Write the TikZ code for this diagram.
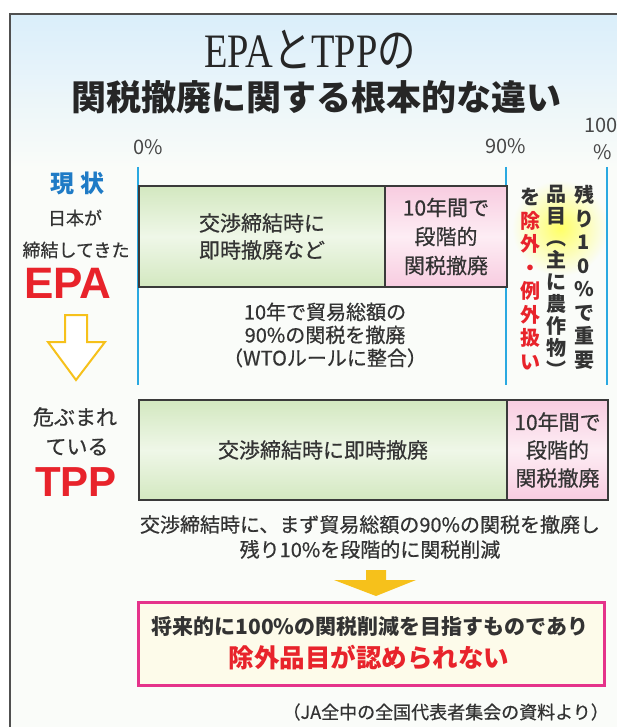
\documentclass[tikz,border=0pt]{standalone}
\usepackage{fontspec}
\setmainfont{Liberation Sans}
\newfontfamily\jp{Noto Sans CJK JP}
\newfontfamily\jpm[FakeBold=0.6]{Noto Sans CJK JP}
\newfontfamily\ser{Liberation Serif}
\newfontfamily\lsans{Liberation Sans}
\definecolor{framec}{HTML}{505050}
\definecolor{txt}{HTML}{333333}
\definecolor{bluel}{HTML}{2AA9E1}
\definecolor{redt}{HTML}{E8232B}
\definecolor{bluet}{HTML}{1F7BC6}
\definecolor{yel}{HTML}{F6C11B}
\definecolor{mag}{HTML}{E5338B}
\definecolor{cream}{HTML}{FDFBEA}
\definecolor{greenA}{HTML}{D3E8C0}
\definecolor{greenB}{HTML}{EFF7E8}
\definecolor{pinkA}{HTML}{F8CCE0}
\definecolor{pinkB}{HTML}{FDEDF4}
\definecolor{bg}{HTML}{FAFCF9}
\definecolor{sky}{HTML}{DAEEFA}
\definecolor{barline}{HTML}{3A3A3A}
\tikzset{
  jt/.style={inner sep=0pt, align=center, text=txt, font=\jpm\fontsize{#1}{#1}\selectfont},
  jtl/.style 2 args={inner sep=0pt, align=center, text=txt, font=\jpm\fontsize{#1}{#2}\selectfont},
  greenbar/.style={draw=barline, line width=2pt, anchor=north west, inner sep=0pt,
     top color=greenA, bottom color=greenA, middle color=greenB},
  pinkbar/.style={draw=barline, line width=2pt, anchor=north west, inner sep=0pt,
     top color=pinkA, bottom color=pinkA, middle color=pinkB},
  scale line/.style={bluel, line width=1.6pt},
  pct/.style={inner sep=0pt, text=txt!90, font=\jp\fontsize{20}{20}\selectfont},
  vcol/.style={inner sep=0pt, align=center, text=txt, anchor=north, font=\jp\bfseries\fontsize{20}{#1}\selectfont},
}
\begin{document}
\begin{tikzpicture}[x=1pt,y=-1pt]
\useasboundingbox (0,0) rectangle (617,727);
\fill[white] (0,0) rectangle (617,727);
\fill[bg] (10,14) rectangle (617,727);
\shade[top color=sky, bottom color=bg] (10,14) rectangle (617,168);
\draw[framec, line width=2.5pt] (10,727) -- (10,14) -- (617,14);

% title
\node[inner sep=0pt, text=black!85, xscale=0.8, font=\jp\fontsize{48}{48}\selectfont] (t1) at (310,50)
  {{\ser EPA}と{\ser TPP}の};
\node[inner sep=0pt, text=black!85, font=\jp\bfseries\fontsize{35}{35}\selectfont] (t2) at (316,97)
  {関税撤廃に関する根本的な違い};

% percent labels
\node[pct] (p0) at (148,147) {0\%};
\node[pct] (p90) at (506,146) {90\%};
\node[pct] (p100) at (601,125) {100};
\node[pct] (p100b) at (603,152) {\%};

% glow
\shade[inner color=yellow!60, outer color=bg] (560,228) circle (48);

% scale lines
\coordinate (s0t) at (138,167); \coordinate (s0b) at (138,385);
\coordinate (s90t) at (506,167); \coordinate (s90b) at (506,385);
\coordinate (s100t) at (607,167); \coordinate (s100b) at (607,385);
\draw[scale line] (s0t) -- (s0b);
\draw[scale line] (s90t) -- (s90b);
\draw[scale line] (s100t) -- (s100b);

% EPA bars
\node[greenbar, minimum width=246pt, minimum height=101pt] (eg) at (138,185) {};
\node[pinkbar, minimum width=122pt, minimum height=101pt] (ep) at (384,185) {};
\node[jtl={21}{27}] (egt) at (eg.center) {交渉締結時に\\即時撤廃など};
\node[jtl={21}{29}] (ept) at (ep.center) {10年間で\\段階的\\関税撤廃};
\node[jtl={20}{23}] (enote) at (325,335) {10年で貿易総額の\\90\%の関税を撤廃\\（WTOルールに整合）};

% TPP bars
\node[greenbar, minimum width=368pt, minimum height=100pt] (tg) at (138,399) {};
\node[pinkbar, minimum width=101pt, minimum height=100pt] (tp) at (506,399) {};
\node[jt=21] (tgt) at (tg.center) {交渉締結時に即時撤廃};
\node[jtl={21}{28}] (tpt) at (tp.center) {10年間で\\段階的\\関税撤廃};
\node[jtl={20}{25}] (tnote) at (370,537) {交渉締結時に、まず貿易総額の90\%の関税を撤廃し\\残り10\%を段階的に関税削減};

% left labels
\node[inner sep=0pt, text=bluet, font=\jp\bfseries\fontsize{24}{24}\selectfont] (gj) at (77,183) {現\hspace{6pt}状};
\node[jt=18] (nh) at (75,218) {日本が};
\node[jt=18] (tk) at (76,250) {締結してきた};
\node[inner sep=0pt, text=redt, font=\lsans\bfseries\fontsize{44}{44}\selectfont] (epa) at (68,283) {EPA};
\draw[yel, line width=2pt, fill=white, line join=miter]
  (65,315) -- (87,315) -- (87,342) -- (105,342) -- (76,380) -- (48,342) -- (65,342) -- cycle;
\node[jt=21] (ab) at (75,417) {危ぶまれ};
\node[jt=21] (ir) at (77,447) {ている};
\node[inner sep=0pt, text=redt, font=\lsans\bfseries\fontsize{42}{42}\selectfont] (tpp) at (76,482) {TPP};

% vertical columns (read right to left)
\node[vcol=23.5] (vc) at (584,185) {残\\り\\1\\0\\\%\\で\\重\\要};
\node[vcol=22] (vb) at (556,185) {品\\目\\︵\\主\\に\\農\\作\\物\\︶};
\node[vcol=23.5] (va) at (530,188) {を\\\color{redt}除\\\color{redt}外\\\color{redt}・\\\color{redt}例\\\color{redt}外\\\color{redt}扱\\\color{redt}い};

% bottom arrow
\fill[yel] (366,570) -- (386,570) -- (386,580) -- (416,580) -- (376,596) -- (334,580) -- (366,580) -- cycle;

% conclusion box
\node[draw=mag, line width=3pt, fill=cream, anchor=north west, minimum width=466pt, minimum height=83pt, inner sep=0pt] (box) at (137,601) {};
\node[inner sep=0pt, text=txt, font=\jp\bfseries\fontsize{21}{21}\selectfont] (bl1) at (370,627) {将来的に100\%の関税削減を目指すものであり};
\node[inner sep=0pt, text=redt, font=\jp\bfseries\fontsize{25.5}{25.5}\selectfont] (bl2) at (369,658) {除外品目が認められない};

% source
\node[jt=18, anchor=east] (src) at (609,712) {（JA全中の全国代表者集会の資料より）};
\end{tikzpicture}
\end{document}
